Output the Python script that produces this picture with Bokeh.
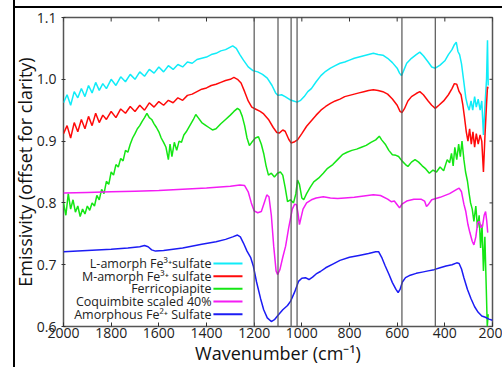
import math
from bokeh.plotting import figure
from bokeh.models import (Range1d, FixedTicker, Span, ColumnDataSource,
                          NumeralTickFormatter)
from bokeh.core.properties import value
from bokeh.embed import file_html
from bokeh.resources import INLINE

# ---------------- data ----------------
x_ticks = [2000, 1800, 1600, 1400, 1200, 1000, 800, 600, 400, 200]
y_ticks = [0.6, 0.7, 0.8, 0.9, 1.0, 1.1]
band_lines = [1200, 1100, 1045, 1020, 580, 440]

labels = ["L-amorph Fe³⁺sulfate", "M-amorph Fe³⁺ sulfate", "Ferricopiapite",
          "Coquimbite scaled 40%", "Amorphous Fe²⁺ Sulfate"]
colors = ["#10ecf8", "#ff0a0a", "#14e614", "#f41cf4", "#1c1cf4"]

cyan_wn = [2000, 1985, 1970, 1955, 1940, 1925, 1910, 1895, 1880, 1865, 1850, 1835, 1820, 1800,
           1780, 1760, 1740, 1720, 1700, 1680, 1660, 1640, 1620, 1600, 1580, 1560, 1540, 1520,
           1500, 1480, 1460, 1440, 1420, 1400, 1380, 1360, 1340, 1320, 1300, 1290, 1275, 1260,
           1245, 1225, 1205, 1185, 1165, 1145, 1125, 1110, 1100, 1085, 1070, 1050, 1035, 1020,
           1005, 990, 975, 960, 940, 920, 900, 880, 860, 840, 820, 800, 780, 760, 740, 720, 700,
           680, 660, 640, 620, 600, 590, 582, 575, 560, 540, 520, 505, 490, 470, 455, 440, 420,
           400, 385, 370, 360, 352, 345, 338, 330, 320, 312, 305, 298, 290, 283, 275, 268, 260,
           252, 245, 238, 232, 225, 221, 218]
cyan_val = [0.962, 0.975, 0.958, 0.980, 0.970, 0.985, 0.972, 0.990, 0.978, 0.995, 0.982, 0.993,
            0.985, 1.000, 0.990, 1.004, 0.996, 1.008, 1.000, 1.012, 1.005, 1.016, 1.010, 1.020,
            1.012, 1.022, 1.016, 1.024, 1.020, 1.028, 1.026, 1.032, 1.034, 1.036, 1.040, 1.042,
            1.046, 1.048, 1.052, 1.054, 1.050, 1.040, 1.031, 1.020, 1.014, 1.012, 1.008, 1.002,
            0.990, 0.978, 0.974, 0.975, 0.972, 0.967, 0.965, 0.963, 0.966, 0.972, 0.980, 0.985,
            0.996, 1.006, 1.013, 1.018, 1.022, 1.026, 1.028, 1.031, 1.034, 1.036, 1.038, 1.040,
            1.042, 1.040, 1.039, 1.034, 1.027, 1.018, 1.010, 1.006, 1.012, 1.026, 1.034, 1.040,
            1.044, 1.038, 1.028, 1.020, 1.018, 1.023, 1.030, 1.040, 1.048, 1.056, 1.060, 1.045,
            1.040, 1.025, 0.995, 0.970, 0.958, 0.950, 0.965, 0.950, 0.972, 0.955, 0.968, 0.950,
            0.965, 0.910, 0.955, 1.000, 1.063, 0.990]

red_wn = [2000, 1985, 1970, 1955, 1940, 1925, 1910, 1895, 1880, 1865, 1850, 1835, 1820, 1800,
          1780, 1760, 1740, 1720, 1700, 1680, 1660, 1640, 1620, 1600, 1580, 1560, 1540, 1520,
          1500, 1480, 1460, 1440, 1420, 1400, 1380, 1360, 1340, 1320, 1300, 1285, 1270, 1255,
          1240, 1225, 1210, 1195, 1175, 1160, 1140, 1120, 1105, 1095, 1080, 1070, 1055, 1045,
          1030, 1018, 1000, 980, 960, 940, 920, 900, 880, 860, 840, 820, 800, 780, 760, 740, 720,
          700, 680, 660, 640, 620, 600, 588, 580, 570, 555, 540, 520, 505, 490, 470, 455, 440,
          425, 405, 385, 370, 360, 350, 340, 332, 325, 318, 310, 303, 296, 289, 282, 275, 268,
          260, 252, 245, 238, 232, 225, 221, 218]
red_val = [0.912, 0.925, 0.905, 0.930, 0.915, 0.935, 0.920, 0.940, 0.925, 0.945, 0.930, 0.942,
           0.935, 0.948, 0.938, 0.952, 0.945, 0.956, 0.948, 0.958, 0.950, 0.962, 0.955, 0.964,
           0.958, 0.966, 0.962, 0.970, 0.966, 0.974, 0.976, 0.980, 0.984, 0.986, 0.990, 0.992,
           0.995, 0.998, 1.000, 1.003, 1.000, 0.994, 0.980, 0.965, 0.955, 0.952, 0.948, 0.944,
           0.935, 0.922, 0.914, 0.913, 0.918, 0.916, 0.903, 0.897, 0.899, 0.902, 0.912, 0.924,
           0.933, 0.942, 0.950, 0.956, 0.961, 0.965, 0.968, 0.972, 0.974, 0.976, 0.978, 0.980,
           0.982, 0.983, 0.982, 0.980, 0.976, 0.968, 0.958, 0.948, 0.946, 0.952, 0.965, 0.972,
           0.977, 0.980, 0.975, 0.965, 0.958, 0.953, 0.958, 0.965, 0.975, 0.985, 0.993, 0.992,
           0.980, 0.975, 0.960, 0.940, 0.915, 0.900, 0.920, 0.895, 0.915, 0.890, 0.912, 0.895,
           0.910, 0.900, 0.850, 0.905, 0.960, 0.988, 0.985]

green_wn = [2000, 1990, 1980, 1970, 1960, 1950, 1940, 1930, 1920, 1910, 1900, 1890, 1880, 1870,
            1860, 1850, 1840, 1830, 1820, 1810, 1800, 1790, 1780, 1770, 1760, 1750, 1740, 1730,
            1720, 1710, 1700, 1690, 1680, 1670, 1660, 1650, 1640, 1630, 1620, 1610, 1600, 1590,
            1580, 1570, 1560, 1553, 1545, 1535, 1525, 1515, 1505, 1495, 1485, 1470, 1455, 1445,
            1435, 1420, 1405, 1390, 1375, 1360, 1340, 1320, 1300, 1285, 1270, 1260, 1250, 1240,
            1230, 1220, 1210, 1195, 1182, 1170, 1160, 1150, 1140, 1128, 1115, 1102, 1090, 1080,
            1070, 1060, 1048, 1035, 1025, 1018, 1010, 1000, 992, 980, 965, 950, 930, 910, 892,
            870, 850, 830, 810, 790, 770, 750, 730, 710, 690, 675, 665, 650, 635, 620, 605, 594,
            580, 565, 555, 540, 525, 510, 495, 480, 465, 450, 435, 420, 405, 390, 380, 372, 365,
            358, 350, 342, 335, 328, 320, 313, 305, 298, 292, 285, 278, 270, 263, 256, 250, 244,
            238, 232, 226, 222, 218]
green_val = [0.800, 0.780, 0.815, 0.790, 0.805, 0.785, 0.795, 0.778, 0.790, 0.782, 0.795, 0.788,
             0.800, 0.795, 0.812, 0.805, 0.822, 0.815, 0.835, 0.830, 0.850, 0.845, 0.862, 0.858,
             0.872, 0.868, 0.885, 0.882, 0.895, 0.905, 0.912, 0.920, 0.925, 0.932, 0.938, 0.945,
             0.938, 0.935, 0.928, 0.922, 0.915, 0.905, 0.898, 0.890, 0.870, 0.895, 0.875, 0.898,
             0.885, 0.900, 0.898, 0.910, 0.915, 0.925, 0.935, 0.943, 0.938, 0.930, 0.926, 0.922,
             0.918, 0.920, 0.928, 0.935, 0.942, 0.948, 0.953, 0.950, 0.940, 0.925, 0.905, 0.893,
             0.898, 0.905, 0.907, 0.895, 0.880, 0.860, 0.845, 0.848, 0.842, 0.848, 0.850, 0.845,
             0.825, 0.802, 0.805, 0.800, 0.815, 0.837, 0.830, 0.808, 0.805, 0.815, 0.825, 0.834,
             0.840, 0.848, 0.856, 0.862, 0.870, 0.878, 0.882, 0.885, 0.887, 0.890, 0.893, 0.898,
             0.902, 0.908, 0.902, 0.895, 0.885, 0.878, 0.877, 0.875, 0.868, 0.862, 0.859, 0.866,
             0.870, 0.866, 0.860, 0.855, 0.848, 0.853, 0.850, 0.858, 0.852, 0.870, 0.865, 0.880,
             0.860, 0.890, 0.870, 0.895, 0.875, 0.900, 0.870, 0.850, 0.835, 0.815, 0.800, 0.790,
             0.770, 0.795, 0.760, 0.780, 0.727, 0.765, 0.690, 0.745, 0.660, 0.600, 0.620]

magenta_wn = [2000, 1900, 1800, 1700, 1600, 1500, 1400, 1300, 1260, 1240, 1225, 1212, 1200, 1185,
              1170, 1158, 1147, 1138, 1128, 1118, 1108, 1102, 1092, 1080, 1068, 1055, 1040, 1030,
              1022, 1016, 1010, 1004, 995, 980, 960, 940, 910, 880, 850, 820, 780, 740, 700, 670,
              640, 625, 612, 600, 590, 580, 560, 530, 500, 485, 477, 468, 455, 420, 380, 350, 340,
              330, 320, 312, 303, 295, 285, 278, 270, 262, 255, 248, 242, 235, 229, 224, 220]
magenta_val = [0.816, 0.817, 0.818, 0.819, 0.820, 0.822, 0.824, 0.827, 0.829, 0.828, 0.818, 0.800,
               0.787, 0.784, 0.786, 0.800, 0.813, 0.810, 0.780, 0.730, 0.690, 0.684, 0.692, 0.712,
               0.730, 0.760, 0.790, 0.798, 0.797, 0.783, 0.765, 0.775, 0.790, 0.800, 0.805, 0.808,
               0.810, 0.808, 0.807, 0.808, 0.809, 0.811, 0.813, 0.812, 0.806, 0.802, 0.803, 0.797,
               0.792, 0.798, 0.803, 0.806, 0.806, 0.803, 0.794, 0.798, 0.805, 0.809, 0.815, 0.822,
               0.824, 0.818, 0.798, 0.786, 0.765, 0.752, 0.738, 0.732, 0.745, 0.768, 0.770, 0.760,
               0.762, 0.780, 0.786, 0.770, 0.752]

blue_wn = [2000, 1900, 1800, 1730, 1680, 1660, 1645, 1630, 1614, 1580, 1500, 1420, 1360, 1320,
           1290, 1270, 1258, 1245, 1230, 1215, 1203, 1190, 1173, 1160, 1145, 1128, 1115, 1098,
           1080, 1060, 1047, 1030, 1014, 1000, 985, 970, 955, 940, 922, 900, 870, 840, 800, 760,
           720, 690, 678, 665, 650, 635, 620, 605, 596, 588, 578, 565, 545, 520, 495, 470, 445,
           420, 395, 370, 350, 340, 330, 320, 305, 290, 275, 260, 245, 230, 215, 200]
blue_val = [0.721, 0.723, 0.725, 0.727, 0.729, 0.731, 0.729, 0.724, 0.722, 0.723, 0.727, 0.733,
            0.737, 0.741, 0.745, 0.748, 0.745, 0.735, 0.722, 0.712, 0.697, 0.672, 0.645, 0.627,
            0.614, 0.608, 0.611, 0.619, 0.627, 0.634, 0.641, 0.656, 0.673, 0.678, 0.679, 0.676,
            0.680, 0.685, 0.689, 0.695, 0.701, 0.707, 0.712, 0.715, 0.718, 0.721, 0.721, 0.712,
            0.698, 0.685, 0.671, 0.660, 0.655, 0.660, 0.672, 0.679, 0.683, 0.686, 0.688, 0.690,
            0.692, 0.695, 0.698, 0.700, 0.703, 0.702, 0.693, 0.679, 0.660, 0.645, 0.632, 0.623,
            0.617, 0.615, 0.612, 0.610]

series = [(cyan_wn, cyan_val), (red_wn, red_val), (green_wn, green_val),
          (magenta_wn, magenta_val), (blue_wn, blue_val)]

x_title = "Wavenumber (cm⁻¹)"
y_title = "Emissivity (offset for clarity)"

# ---------------- figure ----------------
FONT = "Open Sans"
p = figure(width=502, height=367, x_range=Range1d(2000, 200), y_range=Range1d(0.6, 1.1),
           output_backend="svg", toolbar_location=None,
           min_border_left=63, min_border_right=10, min_border_top=17, min_border_bottom=40)
p.grid.visible = False
p.outline_line_color = "#555555"
p.outline_line_width = 1.5
p.background_fill_color = "white"
p.border_fill_color = None
# black frame lines of the source page (left and top), drawn as the host background
p.styles = {"background": "linear-gradient(#000, #000) 13px 0 / 2px 100% no-repeat, "
                          "linear-gradient(#000, #000) 13px 6px / 100% 2px no-repeat, white"}

for ax in (p.xaxis[0], p.yaxis[0]):
    ax.axis_line_color = None
    ax.major_tick_line_color = "#333333"
    ax.minor_tick_line_color = None
    ax.major_label_text_font = FONT
    ax.major_label_text_font_size = "14px"
    ax.major_label_text_color = "#222222"
    ax.axis_label_text_font = FONT
    ax.axis_label_text_font_style = "normal"
    ax.axis_label_text_color = "#111111"

p.xaxis[0].ticker = FixedTicker(ticks=x_ticks)
p.xaxis[0].major_tick_in = 4
p.xaxis[0].major_tick_out = 0
p.xaxis[0].major_label_standoff = 1
p.xaxis[0].axis_label = x_title
p.xaxis[0].axis_label_text_font_size = "18px"
p.xaxis[0].axis_label_standoff = 0

p.yaxis[0].ticker = FixedTicker(ticks=y_ticks)
p.yaxis[0].formatter = NumeralTickFormatter(format="0.0")
p.yaxis[0].major_tick_in = 2
p.yaxis[0].major_tick_out = 2
p.yaxis[0].major_label_standoff = 5
p.yaxis[0].axis_label = y_title
p.yaxis[0].axis_label_text_font_size = "18px"
p.yaxis[0].axis_label_standoff = -3

# inward ticks on the top and right edges (half of each dash is clipped by the frame)
p.scatter(x=x_ticks, y=[y_ticks[-1]] * len(x_ticks), marker="dash", size=8,
          angle=math.pi / 2, line_color="#333333", line_width=1)
p.scatter(x=[x_ticks[-1]] * len(y_ticks), y=y_ticks, marker="dash", size=6,
          line_color="#333333", line_width=1)

for w in band_lines:
    p.add_layout(Span(location=w, dimension="height", line_color="#555555", line_width=1.2))

for (wn, val), c in zip(series, colors):
    p.line(wn, val, line_color=c, line_width=1.5)

# ---------------- legend (text left of swatch) ----------------
LEG_TEXT_X = 1379
LEG_SW_X0, LEG_SW_X1 = 1371, 1249
LEG_TOP, LEG_STEP = 0.702, 0.0205
leg_y = [LEG_TOP - i * LEG_STEP for i in range(len(labels))]
leg_src = ColumnDataSource(dict(y=leg_y, label=labels, color=colors,
                                tx=[LEG_TEXT_X] * len(labels),
                                x0=[LEG_SW_X0] * len(labels), x1=[LEG_SW_X1] * len(labels)))
p.text(x="tx", y="y", text="label", source=leg_src, text_align="right",
       text_baseline="middle", text_font=value(FONT), text_font_size="12.5px",
       text_color="#222222")
p.segment(x0="x0", y0="y", x1="x1", y1="y", source=leg_src, line_color="color", line_width=2)

open("out.html", "w").write(file_html(p, INLINE))
